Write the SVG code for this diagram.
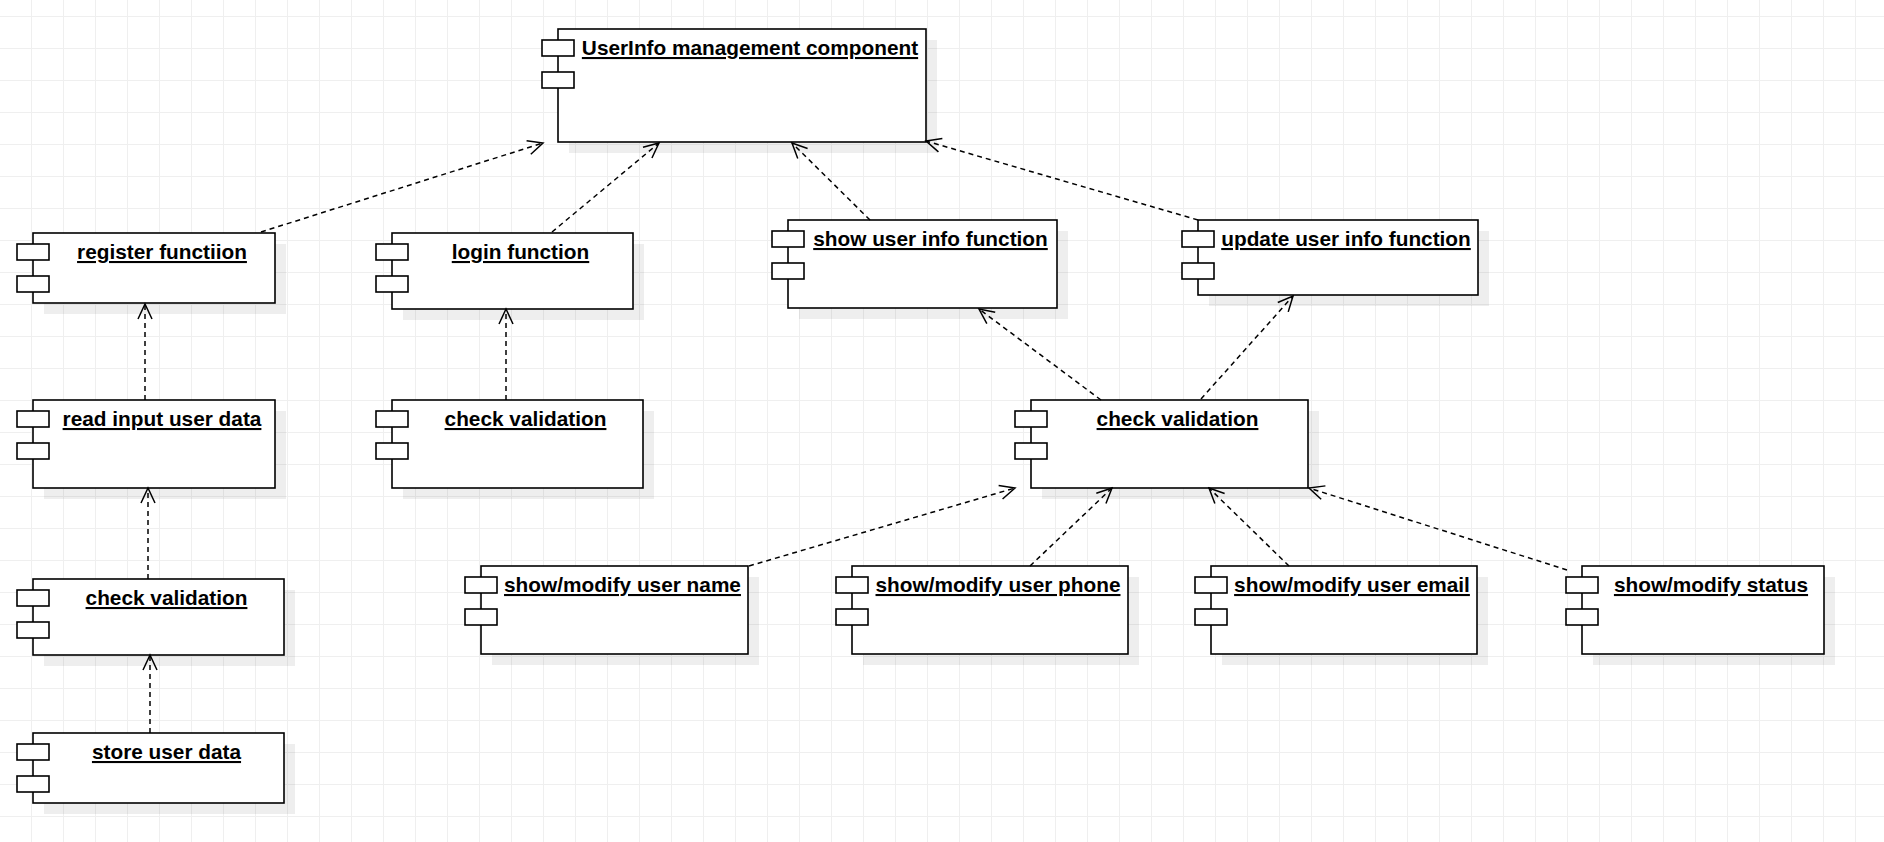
<svg xmlns="http://www.w3.org/2000/svg" width="1884" height="842" viewBox="0 0 1884 842">
<style>
.box{fill:#fff;stroke:#000;stroke-width:1.6}
.port{fill:#fff;stroke:#000;stroke-width:1.6}
.shadow{fill:#000;fill-opacity:0.065}
.lbl{font-family:"Liberation Sans",Arial,sans-serif;font-weight:bold;font-size:20.8px;fill:#000;text-anchor:middle;text-decoration:underline}
.edge{fill:none;stroke:#000;stroke-width:1.5;stroke-dasharray:5 4}
</style>
<defs>
<pattern id="grid" width="32" height="32" patternUnits="userSpaceOnUse" x="31" y="16">
<path d="M0 0.5H32M0.5 0V32" fill="none" stroke="#efefef" stroke-width="1"/>
</pattern>
<marker id="open" viewBox="-17 -9 19 18" markerWidth="19" markerHeight="18" refX="0" refY="0" orient="auto" markerUnits="userSpaceOnUse">
<path d="M-15,-7L0,0L-15,7" fill="none" stroke="#000" stroke-width="1.5" stroke-dasharray="none"/>
</marker>
</defs>
<rect width="1884" height="842" fill="#fff"/>
<rect width="1884" height="842" fill="url(#grid)"/>

<g id="n-main">
<rect class="shadow" x="569" y="40" width="368" height="113"/>
<rect class="box" x="558" y="29" width="368" height="113"/>
<rect class="port" x="542" y="40" width="32" height="16"/>
<rect class="port" x="542" y="72" width="32" height="16"/>
<text class="lbl" x="750" y="55">UserInfo management component</text>
</g>

<g id="n-register">
<rect class="shadow" x="44" y="244" width="242" height="70"/>
<rect class="box" x="33" y="233" width="242" height="70"/>
<rect class="port" x="17" y="244" width="32" height="16"/>
<rect class="port" x="17" y="276" width="32" height="16"/>
<text class="lbl" x="162" y="259">register functiion</text>
</g>

<g id="n-login">
<rect class="shadow" x="403" y="244" width="241" height="76"/>
<rect class="box" x="392" y="233" width="241" height="76"/>
<rect class="port" x="376" y="244" width="32" height="16"/>
<rect class="port" x="376" y="276" width="32" height="16"/>
<text class="lbl" x="520.5" y="259">login function</text>
</g>

<g id="n-show">
<rect class="shadow" x="799" y="231" width="269" height="88"/>
<rect class="box" x="788" y="220" width="269" height="88"/>
<rect class="port" x="772" y="231" width="32" height="16"/>
<rect class="port" x="772" y="263" width="32" height="16"/>
<text class="lbl" x="930.5" y="246">show user info function</text>
</g>

<g id="n-update">
<rect class="shadow" x="1209" y="231" width="280" height="75"/>
<rect class="box" x="1198" y="220" width="280" height="75"/>
<rect class="port" x="1182" y="231" width="32" height="16"/>
<rect class="port" x="1182" y="263" width="32" height="16"/>
<text class="lbl" x="1346" y="246">update user info function</text>
</g>

<g id="n-read">
<rect class="shadow" x="44" y="411" width="242" height="88"/>
<rect class="box" x="33" y="400" width="242" height="88"/>
<rect class="port" x="17" y="411" width="32" height="16"/>
<rect class="port" x="17" y="443" width="32" height="16"/>
<text class="lbl" x="162" y="426">read input user data</text>
</g>

<g id="n-check-login">
<rect class="shadow" x="403" y="411" width="251" height="88"/>
<rect class="box" x="392" y="400" width="251" height="88"/>
<rect class="port" x="376" y="411" width="32" height="16"/>
<rect class="port" x="376" y="443" width="32" height="16"/>
<text class="lbl" x="525.5" y="426">check validation</text>
</g>

<g id="n-check-right">
<rect class="shadow" x="1042" y="411" width="277" height="88"/>
<rect class="box" x="1031" y="400" width="277" height="88"/>
<rect class="port" x="1015" y="411" width="32" height="16"/>
<rect class="port" x="1015" y="443" width="32" height="16"/>
<text class="lbl" x="1177.5" y="426">check validation</text>
</g>

<g id="n-check-left">
<rect class="shadow" x="44" y="590" width="251" height="76"/>
<rect class="box" x="33" y="579" width="251" height="76"/>
<rect class="port" x="17" y="590" width="32" height="16"/>
<rect class="port" x="17" y="622" width="32" height="16"/>
<text class="lbl" x="166.5" y="605">check validation</text>
</g>

<g id="n-store">
<rect class="shadow" x="44" y="744" width="251" height="70"/>
<rect class="box" x="33" y="733" width="251" height="70"/>
<rect class="port" x="17" y="744" width="32" height="16"/>
<rect class="port" x="17" y="776" width="32" height="16"/>
<text class="lbl" x="166.5" y="759">store user data</text>
</g>

<g id="n-name">
<rect class="shadow" x="492" y="577" width="267" height="88"/>
<rect class="box" x="481" y="566" width="267" height="88"/>
<rect class="port" x="465" y="577" width="32" height="16"/>
<rect class="port" x="465" y="609" width="32" height="16"/>
<text class="lbl" x="622.5" y="592">show/modify user name</text>
</g>

<g id="n-phone">
<rect class="shadow" x="863" y="577" width="276" height="88"/>
<rect class="box" x="852" y="566" width="276" height="88"/>
<rect class="port" x="836" y="577" width="32" height="16"/>
<rect class="port" x="836" y="609" width="32" height="16"/>
<text class="lbl" x="998" y="592">show/modify user phone</text>
</g>

<g id="n-email">
<rect class="shadow" x="1222" y="577" width="266" height="88"/>
<rect class="box" x="1211" y="566" width="266" height="88"/>
<rect class="port" x="1195" y="577" width="32" height="16"/>
<rect class="port" x="1195" y="609" width="32" height="16"/>
<text class="lbl" x="1352" y="592">show/modify user email</text>
</g>

<g id="n-status">
<rect class="shadow" x="1593" y="577" width="242" height="88"/>
<rect class="box" x="1582" y="566" width="242" height="88"/>
<rect class="port" x="1566" y="577" width="32" height="16"/>
<rect class="port" x="1566" y="609" width="32" height="16"/>
<text class="lbl" x="1711" y="592">show/modify status</text>
</g>

<g id="connectors">
<path class="edge" marker-end="url(#open)" d="M261,232L543,143"/>
<path class="edge" marker-end="url(#open)" d="M552,232L659,143"/>
<path class="edge" marker-end="url(#open)" d="M870,220L792,143"/>
<path class="edge" marker-end="url(#open)" d="M1198,220L926,141"/>
<path class="edge" marker-end="url(#open)" d="M145,400L145,304"/>
<path class="edge" marker-end="url(#open)" d="M506,400L506,309"/>
<path class="edge" marker-end="url(#open)" d="M148,579L148,488"/>
<path class="edge" marker-end="url(#open)" d="M150,733L150,655"/>
<path class="edge" marker-end="url(#open)" d="M1101,400L979,309"/>
<path class="edge" marker-end="url(#open)" d="M1201,399L1293,296"/>
<path class="edge" marker-end="url(#open)" d="M749,566L1015,488"/>
<path class="edge" marker-end="url(#open)" d="M1030,566L1112,488"/>
<path class="edge" marker-end="url(#open)" d="M1289,566L1209,488"/>
<path class="edge" marker-end="url(#open)" d="M1567,570L1309,488"/>
</g>
</svg>
